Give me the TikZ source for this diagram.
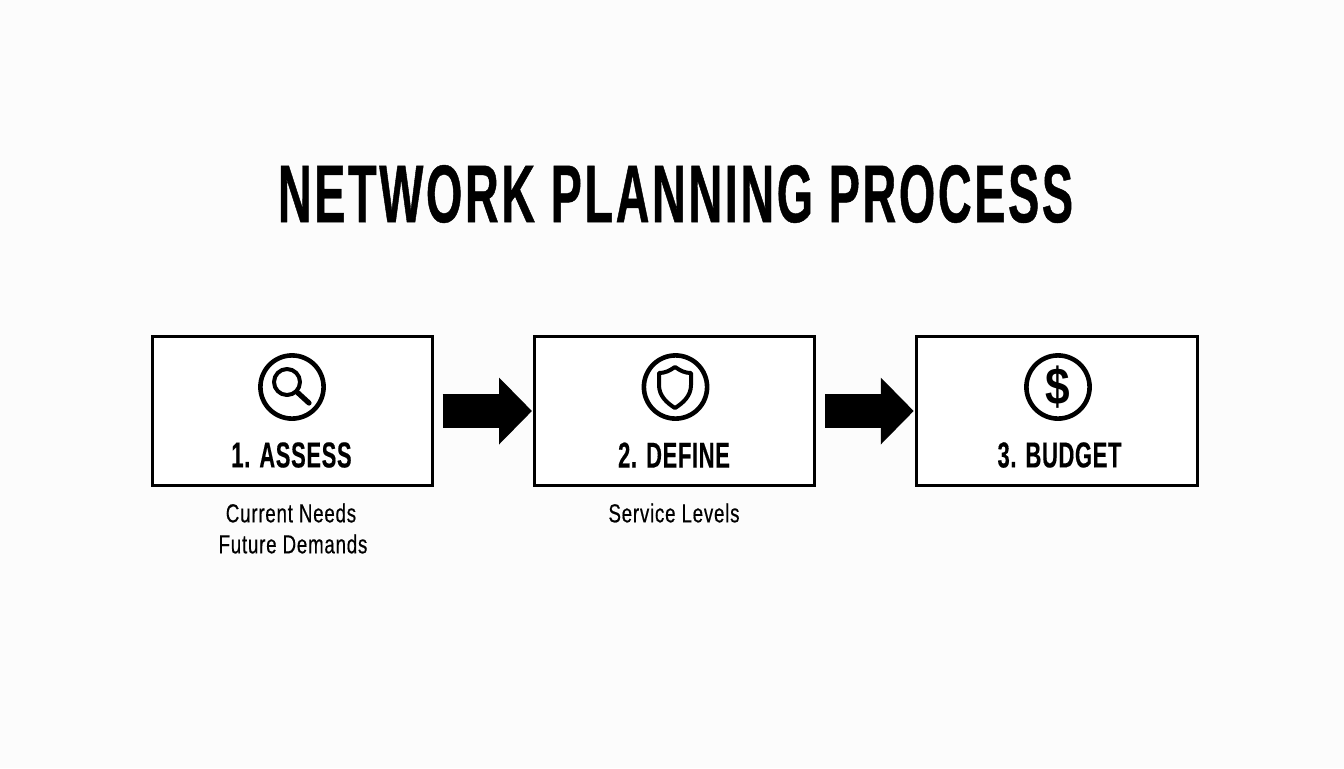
\documentclass[tikz,border=0pt]{standalone}
\usepackage{fontspec}
\setmainfont{Liberation Sans}
\newfontfamily\titlefont[FakeStretch=0.57,LetterSpace=3.2,FakeBold=0.5]{Liberation Sans Bold}
\newfontfamily\headfont[FakeStretch=0.61,LetterSpace=1.8,FakeBold=0.3]{Liberation Sans Bold}
\newfontfamily\subfont[FakeStretch=0.72,LetterSpace=3,FakeBold=0.4]{Liberation Sans}
\newfontfamily\symfont[FakeStretch=0.85]{Liberation Sans Bold}
\usetikzlibrary{arrows.meta}
\tikzset{
  x=0.5pt,y=-0.5pt,
  stepbox/.style={draw=black,line width=1.5pt,fill=white,minimum width=140pt,minimum height=74.5pt,inner sep=0pt},
  headlabel/.style={inner sep=0pt,font=\headfont\fontsize{18}{20}\selectfont,text=black},
  sublabel/.style={inner sep=0pt,font=\subfont\fontsize{13}{15.5}\selectfont,text=black,align=center},
  ring/.style={draw=black,line width=2.3pt,fill=none,circle,minimum size=31.6pt,inner sep=0pt},
  icon/.style={draw=black,line width=2pt,fill=none,line join=round},
  flow/.style={line width=17pt,draw=black,-{Triangle[length=16.5pt,width=32.5pt,inset=0pt]},shorten <=4.5pt,shorten >=0.5pt},
}
\begin{document}
\begin{tikzpicture}
\useasboundingbox[fill=white!99!black] (0,0) rectangle (1344,768);
\node[inner sep=0pt,font=\titlefont\fontsize{41}{46}\selectfont] (title) at (675.5,194) {NETWORK PLANNING PROCESS};
\node[stepbox] (b1) at (292,411) {};
\node[stepbox] (b2) at (674.5,411) {};
\node[stepbox,minimum width=140.75pt] (b3) at (1057,411) {};
\draw[flow] (b1.east) -- (b2.west);
\draw[flow] (b2.east) -- (b3.west);
\node[ring] (i1) at (292,387) {};
\node[ring] (i2) at (675.5,387) {};
\node[ring] (i3) at (1058,387) {};
\draw[icon] (287,382) circle (13);
\draw[icon,line width=2.6pt,line cap=round] (297,392) -- (309,403);
\draw[icon] (675,367) .. controls (669,371) and (665,373) .. (659,373) -- (659,385) .. controls (659,396) and (667,403) .. (675,408) .. controls (683,403) and (691,396) .. (691,385) -- (691,373) .. controls (685,373) and (681,371) .. (675,367) -- cycle;
\node[inner sep=0pt,font=\symfont\fontsize{26}{28}\selectfont] (dollar) at (1058,387) {\$};
\node[headlabel] (h1) at (291.5,455) {1. ASSESS};
\node[headlabel] (h2) at (674,455) {2. DEFINE};
\node[headlabel] (h3) at (1059.5,455) {3. BUDGET};
\node[sublabel] (s1) at (291,513) {Current Needs};
\node[sublabel] (s2) at (293,544) {Future Demands};
\node[sublabel] (s3) at (674,513) {Service Levels};
\end{tikzpicture}
\end{document}
